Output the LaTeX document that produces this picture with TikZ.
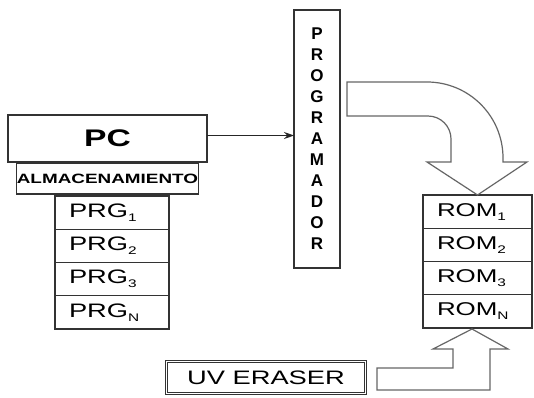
\documentclass[tikz,border=0pt]{standalone}
\usepackage{fontspec}
\setmainfont{Liberation Sans}
\newfontfamily\widesans[FakeStretch=1.4]{Liberation Sans}
\usetikzlibrary{positioning, arrows.meta}

\newcommand{\lowidx}[1]{\raisebox{-0.4ex}{\fontsize{11}{11}\selectfont #1}}

\begin{document}
\begin{tikzpicture}[
		x=1pt, y=1pt, >=Stealth,
		% Define styles
		box/.style={rectangle, draw=black!80, line width=1.1pt, inner sep=0pt, outer sep=0pt},
		pcbox/.style={box, minimum width=199pt, minimum height=47pt, font=\widesans\bfseries\fontsize{24}{24}\selectfont},
		storebox/.style={box, minimum width=181pt, minimum height=31pt, font=\widesans\bfseries\fontsize{13.5}{13.5}\selectfont},
		prgcell/.style={box, inner xsep=14pt, text width=86pt, minimum height=33.25pt, align=left, font=\widesans\fontsize{19.5}{19.5}\selectfont},
		romcell/.style={prgcell, text width=81pt, font=\widesans\fontsize{18.5}{18.5}\selectfont},
		progbox/.style={box, minimum width=46pt, minimum height=258pt, align=center, font=\bfseries\fontsize{17}{21}\selectfont},
		erasebox/.style={box, line width=0.8pt, double, double distance=1.6pt, minimum width=199pt, minimum height=32pt, font=\widesans\fontsize{19.5}{19.5}\selectfont},
		blockarrow/.style={draw=black!60, line width=1.2pt, fill=white}
		]
		
		\useasboundingbox[fill=white] (0,0) rectangle (534,-397);
		
		% 1. PC with its storage
		\node[pcbox] (pc) at (107.5,-138.5) {PC};
		\node[storebox, below=1pt of pc] (store) {ALMACENAMIENTO};
		
		\node[prgcell] (prg1) at (112,-212.6) {PRG\lowidx{1}};
		\node[prgcell, below=0pt of prg1] (prg2) {PRG\lowidx{2}};
		\node[prgcell, below=0pt of prg2] (prg3) {PRG\lowidx{3}};
		\node[prgcell, below=0pt of prg3] (prgN) {PRG\lowidx{N}};
		
		% 2. Programmer
		\node[progbox] (prog) at (317,-139) {P\\R\\O\\G\\R\\A\\M\\A\\D\\O\\R};
		
		\draw[->, line width=1pt, black!85, >={Stealth[length=10pt, width=7pt]}] ([yshift=3pt]pc.east) -- ([yshift=3pt]pc.east -| prog.west);
		
		% 3. ROM stack
		\node[romcell] (rom1) at (477.5,-211.6) {ROM\lowidx{1}};
		\node[romcell, below=0pt of rom1] (rom2) {ROM\lowidx{2}};
		\node[romcell, below=0pt of rom2] (rom3) {ROM\lowidx{3}};
		\node[romcell, below=0pt of rom3] (romN) {ROM\lowidx{N}};
		
		% 4. Eraser
		\node[erasebox] (uv) at (266,-377.5) {UV ERASER};
		
		% Block arrows
		\draw[blockarrow] (347,-82) -- (427,-82) arc[start angle=90, end angle=0, radius=76pt]
			-- (503,-162) -- (527,-162) -- (rom1.north) -- (427,-162) -- (451,-162) -- (451,-139)
			arc[start angle=0, end angle=90, radius=23pt] -- (347,-116) -- cycle;
		\draw[blockarrow] (377,-368) -- (453,-368) -- (453,-349) -- (433,-349) -- (472,-329)
			-- (508,-349) -- (490,-349) -- (490,-390) -- (377,-390) -- cycle;
		
	\end{tikzpicture}
\end{document}
